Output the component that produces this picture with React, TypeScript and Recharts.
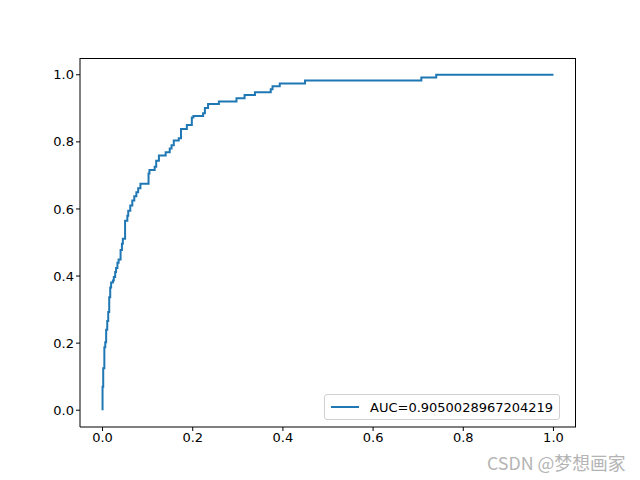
import { LineChart, Line, XAxis, YAxis, Legend } from 'recharts';

// ROC curve points (false positive rate / true positive rate)
const fpr = [
  0, 0, 0.0015, 0.004, 0.006, 0.008, 0.0104, 0.0126, 0.0148, 0.017, 0.019, 0.023,
  0.025, 0.028, 0.03, 0.033, 0.0356, 0.04, 0.043, 0.045, 0.05, 0.05, 0.055, 0.057,
  0.0615, 0.066, 0.0704, 0.075, 0.079, 0.084, 0.102, 0.104, 0.1156, 0.119, 0.125,
  0.14, 0.149, 0.153, 0.158, 0.169, 0.174, 0.187, 0.198, 0.2015, 0.223, 0.227,
  0.234, 0.258, 0.297, 0.315, 0.338, 0.373, 0.377, 0.393, 0.449, 0.707, 0.74, 1.0,
];
const tpr = [
  0, 0.07, 0.125, 0.188, 0.203, 0.24, 0.266, 0.293, 0.337, 0.366, 0.381, 0.387,
  0.397, 0.412, 0.424, 0.44, 0.449, 0.478, 0.496, 0.511, 0.531, 0.565, 0.58, 0.595,
  0.61, 0.625, 0.638, 0.65, 0.662, 0.675, 0.706, 0.716, 0.726, 0.744, 0.759,
  0.769, 0.78, 0.79, 0.804, 0.811, 0.838, 0.85, 0.873, 0.877, 0.885, 0.901,
  0.913, 0.92, 0.93, 0.94, 0.948, 0.957, 0.966, 0.974, 0.983, 0.992, 1.0, 1.0,
];
const ticks = [0, 0.2, 0.4, 0.6, 0.8, 1.0];
const legendLabel = 'AUC=0.9050028967204219';

const data = fpr.map((x, i) => ({ fpr: x, tpr: tpr[i] }));

const font = '"DejaVu Sans", sans-serif';
const tickStyle = { fill: '#000', fontSize: 13, fontFamily: font };

function LegendBox() {
  return (
    <div
      style={{
        position: 'absolute',
        left: 324,
        top: 394,
        width: 236,
        height: 26,
        boxSizing: 'border-box',
        border: '1px solid #d0d0d0',
        borderRadius: 3,
        background: '#fff',
        display: 'flex',
        alignItems: 'center',
        fontFamily: font,
        fontSize: 13,
        color: '#000',
        whiteSpace: 'nowrap',
      }}
    >
      <div style={{ width: 28, height: 2, background: '#1f77b4', marginLeft: 6, marginRight: 11 }} />
      <span>{legendLabel}</span>
    </div>
  );
}

export default function App() {
  return (
    <div style={{ position: 'fixed', left: 0, top: 0, width: 640, height: 480, background: '#fff' }}>
      <LineChart
        width={640}
        height={480}
        data={data}
        margin={{ top: 58, right: 64, left: 40, bottom: 23 }}
      >
        <XAxis
          dataKey="fpr"
          type="number"
          domain={[-0.05, 1.05]}
          ticks={ticks}
          tickFormatter={(v) => v.toFixed(1)}
          stroke="#000"
          tick={tickStyle}
          tickSize={4}
          height={30}
          allowDataOverflow
        />
        <YAxis
          type="number"
          domain={[-0.05, 1.05]}
          ticks={ticks}
          tickFormatter={(v) => v.toFixed(1)}
          stroke="#000"
          tick={tickStyle}
          tickSize={4}
          width={40}
          allowDataOverflow
        />
        <Legend content={() => <LegendBox />} wrapperStyle={{ left: 0, top: 0, width: 0, height: 0 }} />
        <Line
          type="stepAfter"
          dataKey="tpr"
          stroke="#1f77b4"
          strokeWidth={2}
          dot={false}
          isAnimationActive={false}
        />
      </LineChart>
      {/* top and right spines */}
      <div
        style={{
          position: 'absolute',
          left: 80,
          top: 58,
          width: 496,
          height: 369,
          boxSizing: 'border-box',
          borderTop: '1px solid #000',
          borderRight: '1px solid #000',
          pointerEvents: 'none',
        }}
      />
      <div
        style={{
          position: 'absolute',
          left: 487,
          top: 449,
          fontFamily: '"Noto Sans CJK SC", "Noto Sans", sans-serif',
          fontSize: 17.8,
          color: '#b4b4b4',
          whiteSpace: 'nowrap',
        }}
      >
        CSDN @梦想画家
      </div>
    </div>
  );
}
